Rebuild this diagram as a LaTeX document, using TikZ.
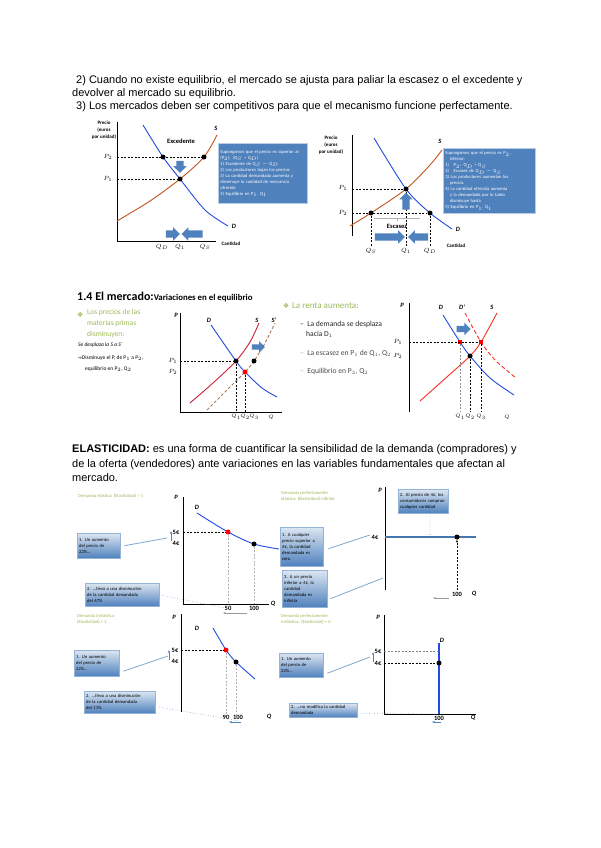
\documentclass[tikz,border=0pt]{standalone}
\usepackage{amsmath,amssymb}
\usepackage{fontspec}
\setmainfont{Liberation Sans}
\newfontfamily\calibri{Carlito}
\newfontfamily\dvsans{DejaVu Sans}
\usetikzlibrary{shapes.arrows,arrows.meta}

\definecolor{demblue}{RGB}{35,75,225}
\definecolor{supbrown}{RGB}{192,84,30}
\definecolor{boxblue}{RGB}{79,129,189}
\definecolor{boxedge}{RGB}{185,205,230}
\definecolor{olgreen}{RGB}{155,187,89}
\definecolor{supred}{RGB}{200,30,55}
\definecolor{shiftbrown}{RGB}{175,120,90}
\definecolor{brightred}{RGB}{250,45,35}
\definecolor{flatblue}{RGB}{70,118,175}

\newcommand{\txtfont}{\fontsize{11}{13}\selectfont}
\newcommand{\notefont}{\calibri\fontsize{4.6}{6}\selectfont}
\newcommand{\lblfont}{\calibri\fontsize{6.5}{7}\selectfont}

\tikzset{
  axis/.style={line width=1pt},
  demand/.style={demblue, line width=0.9pt},
  supply/.style={supbrown, line width=0.9pt},
  guide/.style={line width=0.6pt, dash pattern=on 2pt off 1.5pt},
  lightguide/.style={guide, black!30},
  dot/.style={circle, fill=black, inner sep=0pt, minimum size=5pt},
  reddot/.style={dot, fill=red},
  redsquare/.style={rectangle, fill=red, inner sep=0pt, minimum size=4.5pt},
  lbl/.style={font=\lblfont, inner sep=0pt},
  qlbl/.style={font=\calibri\fontsize{5.5}{6}\selectfont, inner sep=0pt},
  curvelbl/.style={font=\lblfont\bfseries\itshape, inner sep=0pt},
  infobox/.style={anchor=north west, fill=boxblue, draw=boxedge, line width=0.8pt,
    text=white, align=left, inner sep=2pt, font=\notefont},
  notebox/.style={anchor=north west, top color=boxblue!20, bottom color=boxblue,
    draw=boxblue!60, text=black, align=left, inner sep=2pt, font=\notefont},
  fatarrow/.style={single arrow, fill=boxblue, inner xsep=0pt, inner ysep=3.5pt,
    single arrow head extend=3pt},
  greennote/.style={anchor=north west, text=olgreen, font=\notefont, align=left, inner sep=0pt},
  tie/.style={boxblue!70, line width=0.8pt},
  dottie/.style={boxblue!70, line width=0.6pt, dotted},
  thinarrow/.style={-{Stealth[length=3pt]}, line width=0.6pt},
}

\begin{document}
\begin{tikzpicture}[x=1pt,y=-1pt]
\useasboundingbox[fill=white] (0,0) rectangle (600,848);

% texto de arriba
\node[font=\txtfont, anchor=base west, inner sep=0pt] (txt1) at (76,84) {2) Cuando no existe equilibrio, el mercado se ajusta para paliar la escasez o el excedente y};
\node[font=\txtfont, anchor=base west, inner sep=0pt] (txt2) at (72,97) {devolver al mercado su equilibrio.};
\node[font=\txtfont, anchor=base west, inner sep=0pt] (txt3) at (76,110) {3) Los mercados deben ser competitivos para que el mecanismo funcione perfectamente.};

% grafico 1: excedente
\draw[axis] (117,122) -- (117,241) -- (216,241);
\draw[supply] plot[smooth] coordinates {(117,221) (150,201) (180,179) (204,157) (217,135)};
\draw[demand] plot[smooth] coordinates {(143,125) (163,157) (180,179) (205,210) (228,226)};
\coordinate (ga-p2) at (117,157);
\coordinate (ga-p1) at (117,179);
\node[dot] (ga-d2) at (163,157) {};
\node[dot] (ga-s2) at (204,157) {};
\node[dot] (ga-e) at (180,179) {};
\draw[guide] (ga-p2) -- (ga-s2);
\draw[guide] (ga-p1) -- (ga-e);
\node[lbl, align=center, font=\calibri\fontsize{5}{7}\selectfont\bfseries] (ga-ylab) at (104,130) {Precio\\(euros\\por unidad)};
\node[lbl, font=\lblfont\bfseries] (ga-exc) at (181,141) {Excedente};
\node[lbl] (ga-lp2) at (108,157) {$P_2$};
\node[lbl] (ga-lp1) at (108,179) {$P_1$};
\node[curvelbl] (ga-ls) at (216,128) {S};
\node[curvelbl] (ga-ld) at (234,226) {D};
\node[lbl] (ga-q1) at (162,247) {$Q_D$};
\node[lbl] (ga-q2) at (180,247) {$Q_1$};
\node[lbl] (ga-q3) at (205,247) {$Q_S$};
\node[lbl, font=\calibri\fontsize{5}{6}\selectfont\bfseries] (ga-xlab) at (231,244) {Cantidad};
\node[fatarrow, rotate=-90, minimum height=12pt] (ga-down) at (180,165) {};
\node[fatarrow, minimum height=14pt] (ga-right) at (171,234) {};
\node[fatarrow, shape border rotate=180, minimum height=21pt] (ga-left) at (194,234) {};
\node[infobox, text width=85pt, minimum height=60pt] (ga-box) at (218,143) {Supongamos que el precio es superior al\\
(P$_2$): (Q$_S$ > Q$_D$)\\
1) Excedente de Q$_S$ $-$ Q$_D$\\
2) Los productores bajan los precios\\
3) La cantidad demandada aumenta y\\
disminuye la cantidad de mercancía\\
ofrecida\\
4) Equilibrio en P$_1$, Q$_1$};

% grafico 2: escasez
\draw[axis] (352,135) -- (352,236);
\draw[supply] plot[smooth] coordinates {(350,226) (371,213) (406,189) (430,165) (442,150)};
\draw[demand] plot[smooth] coordinates {(374,138) (406,189) (430,213) (452,229)};
\coordinate (gb-p1) at (352,189);
\coordinate (gb-p2) at (352,213);
\node[dot] (gb-s2) at (371,213) {};
\node[dot] (gb-e) at (406,189) {};
\node[dot] (gb-d2) at (430,213) {};
\coordinate (gb-b1) at (371,246);
\coordinate (gb-b2) at (406,246);
\coordinate (gb-b3) at (430,246);
\draw[guide] (gb-p1) -- (gb-e);
\draw[guide] (gb-p2) -- (gb-d2);
\draw[guide] (gb-s2) -- (gb-b1);
\draw[guide] (gb-e) -- (gb-b2);
\draw[guide] (gb-d2) -- (gb-b3);
\draw[black!30, line width=0.8pt] (374,218) -- (420,218);
\draw[black!30, line width=0.6pt] (397,218) -- (397,221);
\node[lbl, font=\lblfont\bfseries] (gb-esc) at (397,226) {Escasez};
\node[lbl, align=center, font=\calibri\fontsize{5}{7}\selectfont\bfseries] (gb-ylab) at (331,145) {Precio\\(euros\\por unidad)};
\node[lbl] (gb-lp1) at (343,188) {$P_1$};
\node[lbl] (gb-lp2) at (343,213) {$P_2$};
\node[curvelbl] (gb-ls) at (440,141) {S};
\node[curvelbl] (gb-ld) at (458,229) {D};
\node[lbl] (gb-q1) at (371,251) {$Q_S$};
\node[lbl] (gb-q2) at (406,251) {$Q_1$};
\node[lbl] (gb-q3) at (430,251) {$Q_D$};
\node[lbl, font=\calibri\fontsize{5}{6}\selectfont\bfseries] (gb-xlab) at (456,246) {Cantidad};
\node[fatarrow, rotate=90, minimum height=17pt] (gb-up) at (406,203) {};
\node[fatarrow, minimum height=30pt] (gb-right) at (388,237) {};
\node[fatarrow, shape border rotate=180, minimum height=20pt] (gb-left) at (420,237) {};
\node[infobox, text width=88pt, minimum height=65pt] (gb-box) at (443,148) {Supongamos que el precio es P$_2$,\\
\quad inferior:\\
1)\quad P$_2$: Q$_D$ > Q$_S$\\
2)\quad Escasez de Q$_D$ $-$ Q$_S$\\
3) Los productores aumentan los\\
\quad precios.\\
4) La cantidad ofrecida aumenta\\
\quad y la demandada por lo tanto\\
\quad disminuye hasta\\
5) Equilibrio en P$_1$, Q$_1$};

% 1.4 variaciones
\node[anchor=base west, inner sep=0pt] (tit14) at (77,300) {\calibri\fontsize{12}{14}\selectfont\bfseries 1.4 El mercado:\fontsize{8.8}{10}\selectfont Variaciones en el equilibrio};
\node[anchor=base west, inner sep=0pt, text=olgreen, font=\dvsans\fontsize{7}{8}\selectfont] (bul1) at (77,317) {❖};
\node[greennote, font=\calibri\fontsize{7.5}{11}\selectfont] (mat) at (87,309) {Los precios de las\\materias primas\\disminuyen:};
\node[anchor=west, inner sep=0pt, font=\calibri\fontsize{5.5}{6}\selectfont\itshape] (mat1) at (78,345) {Se desplaza la S a S'};
\node[anchor=west, inner sep=0pt, font=\calibri\fontsize{5.5}{6}\selectfont] (mat2) at (78,358) {{\dvsans\fontsize{4.5}{5}\selectfont ⇒}Disminuye el P, de P$_1$ a P$_2$,};
\node[anchor=west, inner sep=0pt, font=\calibri\fontsize{5.5}{6}\selectfont] (mat3) at (85,369) {equilibrio en P$_2$, Q$_2$};

% grafico 3: baja la oferta
\draw[axis] (180,313) -- (180,412) -- (282,412);
\draw[demand] plot[smooth] coordinates {(211,325) (236,361) (245,372) (262,388) (277,397)};
\draw[supred, line width=0.9pt] plot[smooth] coordinates {(190,403) (213,383) (236,361) (250,342) (259,323)};
\draw[shiftbrown, line width=0.9pt, dash pattern=on 3pt off 2pt] plot[smooth] coordinates {(207,410) (227,390) (245,372) (254,361) (265,343) (275,323)};
\coordinate (gc-p1) at (180,361);
\node[dot] (gc-e1) at (236,361) {};
\node[dot] (gc-s1) at (254,361) {};
\node[reddot] (gc-e2) at (245,372) {};
\coordinate (gc-b1) at (236,412);
\coordinate (gc-b2) at (245,412);
\draw[guide] (gc-p1) -- (gc-e1);
\draw[guide] (gc-e1) -- (gc-b1);
\draw[guide] (gc-e2) -- (gc-b2);
\node[fatarrow, minimum height=13pt, inner ysep=2.5pt] (gc-right) at (257,347) {};
\node[curvelbl] (gc-lp) at (176,315) {P};
\node[curvelbl] (gc-ld) at (209,320) {D};
\node[curvelbl] (gc-ls) at (257,320) {S};
\node[curvelbl] (gc-ls2) at (274,320) {S'};
\node[lbl] (gc-lp1) at (173,361) {$P_1$};
\node[lbl] (gc-lp2) at (173,372) {$P_2$};
\node[qlbl] (gc-q1) at (236,417) {$Q_1$};
\node[qlbl] (gc-q2) at (245,417) {$Q_2$};
\node[qlbl] (gc-q3) at (254,417) {$Q_3$};
\node[qlbl] (gc-q) at (271,417) {$Q$};

% texto renta
\node[anchor=base west, inner sep=0pt, text=olgreen, font=\dvsans\fontsize{7}{8}\selectfont] (bul2) at (283,308) {❖};
\node[anchor=base west, inner sep=0pt, text=olgreen, font=\calibri\fontsize{9}{10}\selectfont] (renta) at (292,308) {La renta aumenta:};
\node[anchor=base west, inner sep=0pt, font=\calibri\fontsize{7.6}{10}\selectfont, text=black!85] (ren1) at (300,326) {–\ \ La demanda se desplaza};
\node[anchor=base west, inner sep=0pt, font=\calibri\fontsize{7.6}{10}\selectfont, text=black!85] (ren1b) at (306,336) {hacia D$_1$};
\node[anchor=base west, inner sep=0pt, font=\calibri\fontsize{7.6}{10}\selectfont, text=black!70] (ren2) at (300,355) {{\color{black!35}–}\ \ La escasez en P$_1$ de Q$_1$, Q$_2$};
\node[anchor=base west, inner sep=0pt, font=\calibri\fontsize{7.6}{10}\selectfont, text=black!70] (ren3) at (300,373) {{\color{black!35}–}\ \ Equilibrio en P$_2$, Q$_2$};

% grafico 4: sube la demanda
\draw[axis] (409,303) -- (409,412);
\draw[demand] plot[smooth] coordinates {(443,315) (460,342) (470,356) (490,378) (514,395)};
\draw[brightred, line width=0.9pt, dash pattern=on 4pt off 2.5pt] plot[smooth] coordinates {(465,313) (481,342) (495,360) (516,378)};
\draw[brightred, line width=0.9pt] plot[smooth] coordinates {(420,401) (448,376) (470,356) (481,342) (497,313)};
\coordinate (gd-p1) at (409,342);
\node[redsquare] (gd-d1) at (460,342) {};
\node[redsquare] (gd-e2) at (481,342) {};
\node[dot] (gd-e1) at (470,356) {};
\coordinate (gd-b1) at (460,412);
\coordinate (gd-b2) at (470,412);
\coordinate (gd-b3) at (481,412);
\draw[guide] (gd-p1) -- (gd-e2);
\draw[lightguide, black!45] (gd-d1) -- (gd-b1);
\draw[guide] (gd-e1) -- (gd-b2);
\draw[guide] (gd-e2) -- (gd-b3);
\node[fatarrow, minimum height=14pt, inner ysep=3pt] (gd-right) at (462,329) {};
\node[curvelbl] (gd-lp) at (402,305) {P};
\node[curvelbl] (gd-ld) at (441,307) {D};
\node[curvelbl] (gd-ld2) at (462,307) {D'};
\node[curvelbl] (gd-ls) at (492,307) {S};
\node[lbl] (gd-lp1) at (398,342) {$P_1$};
\node[lbl] (gd-lp2) at (398,356) {$P_2$};
\node[qlbl] (gd-q1) at (460,417) {$Q_1$};
\node[qlbl] (gd-q2) at (470,417) {$Q_2$};
\node[qlbl] (gd-q3) at (481,417) {$Q_3$};
\node[qlbl] (gd-q) at (507,417) {$Q$};

% elasticidad
\node[font=\txtfont, anchor=base west, inner sep=0pt] (el1) at (72,452) {\textbf{ELASTICIDAD:} es una forma de cuantificar la sensibilidad de la demanda (compradores) y};
\node[font=\txtfont, anchor=base west, inner sep=0pt] (el2) at (72,467) {de la oferta (vendedores) ante variaciones en las variables fundamentales que afectan al};
\node[font=\txtfont, anchor=base west, inner sep=0pt] (el3) at (72,481) {mercado.};

% demanda elastica
\node[greennote] (ea-tit) at (78,494) {Demanda elástica: (Elasticidad) > 1};
\draw[axis] (183,497) -- (183,604) -- (269,604);
\draw[demand] plot[smooth] coordinates {(197,513) (228,532) (254,544) (279,549)};
\coordinate (ea-p5) at (183,532);
\node[reddot] (ea-a) at (228,532) {};
\node[dot] (ea-b) at (254,544) {};
\coordinate (ea-b1) at (228,604);
\coordinate (ea-b2) at (254,604);
\draw[guide] (ea-p5) -- (ea-a);
\draw[lightguide] (ea-a) -- (ea-b1);
\draw[lightguide] (ea-b) -- (ea-b2);
\node[curvelbl] (ea-lp) at (176,497) {P};
\node[curvelbl] (ea-ld) at (197,507) {D};
\node[lbl, font=\lblfont\bfseries] (ea-l5) at (176,532) {5€};
\node[lbl, font=\lblfont\bfseries] (ea-l4) at (176,543) {4€};
\node[lbl, font=\lblfont\bfseries] (ea-q50) at (228,608) {50};
\node[lbl, font=\lblfont\bfseries] (ea-q100) at (254,608) {100};
\node[curvelbl] (ea-q) at (273,604) {Q};
\node[notebox, text width=39pt, minimum height=25pt] (ea-n1) at (77,533) {1. Un aumento\\del precio de\\22\%...};
\node[notebox, text width=70pt, minimum height=23pt] (ea-n2) at (85,583) {2. ...lleva a una disminución\\de la cantidad demandada\\del 67\%};
\coordinate (ea-t1) at (167,538);
\coordinate (ea-t2) at (225,608);
\draw[tie] ([xshift=4pt]ea-n1.east) -- (ea-t1);
\draw[dottie] (ea-n2.east) -- (ea-t2);
\draw[thinarrow, boxblue] (171,541) -- (171,531);
\draw[thinarrow, black!40] (247,613) -- (223,613);

% demanda perfectamente elastica
\node[greennote] (eb-tit) at (281,491) {Demanda perfectamente\\elástica: (Elasticidad) infinita};
\draw[axis] (385,487) -- (385,590);
\draw[flatblue, line width=2pt] (385,537) -- (476,537);
\node[dot] (eb-a) at (457,537) {};
\coordinate (eb-b) at (457,590);
\draw[guide, -{Stealth[length=3pt]}] (eb-b) -- (eb-a);
\node[curvelbl] (eb-lp) at (380,490) {P};
\node[lbl, font=\lblfont\bfseries] (eb-l4) at (375,537) {4€};
\node[lbl, font=\lblfont\bfseries] (eb-q100) at (457,594) {100};
\node[curvelbl] (eb-q) at (474,594) {Q};
\node[notebox, text width=46pt, minimum height=24pt] (eb-n2) at (398,489) {2. Al precio de 4€, los\\consumidores compran\\cualquier cantidad};
\node[notebox, text width=39pt, minimum height=39pt] (eb-n1) at (280,527) {1. A cualquier\\precio superior a\\4€, la cantidad\\demandada es\\cero};
\node[notebox, text width=41pt, minimum height=37pt] (eb-n3) at (282,570) {3. A un precio\\inferior a 4€, la\\cantidad\\demandada es\\infinita};
\coordinate (eb-t2) at (430,535);
\coordinate (eb-t1) at (370,535);
\coordinate (eb-t3) at (383,578);
\draw[dottie] ([xshift=7pt]eb-n2.south) -- (eb-t2);
\draw[tie] ([xshift=5pt,yshift=-2pt]eb-n1.east) -- (eb-t1);
\draw[tie] ([xshift=3pt,yshift=-10pt]eb-n3.east) -- (eb-t3);
\draw[thinarrow, black!40] (449,598) -- (433,598);

% demanda inelastica
\node[greennote] (ec-tit) at (77,614) {Demanda inelástica:\\(Elasticidad) < 1};
\draw[axis] (181,614) -- (181,712);
\draw[demand] plot[smooth] coordinates {(213,628) (226,650) (236,662) (255,679)};
\coordinate (ec-p5) at (181,650);
\node[reddot] (ec-a) at (226,650) {};
\node[dot] (ec-b) at (236,662) {};
\coordinate (ec-b1) at (226,714);
\coordinate (ec-b2) at (236,714);
\draw[guide] (ec-p5) -- (ec-a);
\draw[lightguide] (ec-a) -- (ec-b1);
\draw[lightguide] (ec-b) -- (ec-b2);
\node[curvelbl] (ec-lp) at (174,617) {P};
\node[curvelbl] (ec-ld) at (197,628) {D};
\node[lbl, font=\lblfont\bfseries] (ec-l5) at (175,650) {5€};
\node[lbl, font=\lblfont\bfseries] (ec-l4) at (175,661) {4€};
\node[lbl, font=\lblfont\bfseries] (ec-q90) at (226,717) {90};
\node[lbl, font=\lblfont\bfseries] (ec-q100) at (238,717) {100};
\node[curvelbl] (ec-q) at (269,717) {Q};
\node[notebox, text width=41pt, minimum height=26pt] (ec-n1) at (74,650) {1. Un aumento\\del precio de\\22\%...};
\node[notebox, text width=67pt, minimum height=22pt] (ec-n2) at (84,691) {2. ...lleva a una disminución\\de la cantidad demandada\\del 11\%.};
\coordinate (ec-t1) at (168,656);
\coordinate (ec-t2) at (240,721);
\draw[tie] ([xshift=4pt,yshift=-8pt]ec-n1.east) -- (ec-t1);
\draw[dottie] ([xshift=4pt,yshift=-5pt]ec-n2.east) -- (ec-t2);
\draw[thinarrow, boxblue] (169,660) -- (169,650);
\draw[thinarrow, boxblue] (241,722) -- (229,722);

% demanda perfectamente inelastica
\node[greennote] (ed-tit) at (281,614) {Demanda perfectamente\\inelástica: (Elasticidad) = 0};
\draw[axis] (384,615) -- (384,714) -- (476,714);
\draw[demblue, line width=1.8pt] (439,643) -- (439,714);
\coordinate (ed-p5) at (384,651);
\coordinate (ed-p4) at (384,663);
\coordinate (ed-a) at (439,651);
\node[dot] (ed-b) at (439,663) {};
\draw[lightguide, black!50] (ed-p5) -- (ed-a);
\draw[guide] (ed-p4) -- (ed-b);
\node[curvelbl] (ed-lp) at (378,617) {P};
\node[curvelbl] (ed-ld) at (442,640) {D};
\node[lbl, font=\lblfont\bfseries] (ed-l5) at (378,651) {5€};
\node[lbl, font=\lblfont\bfseries] (ed-l4) at (378,663) {4€};
\node[lbl, font=\lblfont\bfseries] (ed-q100) at (439,718) {100};
\node[curvelbl] (ed-q) at (473,718) {Q};
\node[notebox, text width=40pt, minimum height=24pt] (ed-n1) at (279,653) {1. Un aumento\\del precio de\\22\%...};
\node[notebox, text width=64pt, minimum height=14pt] (ed-n2) at (289,703) {2. ...no modifica la cantidad\\demandada};
\coordinate (ed-t1) at (370,657);
\coordinate (ed-t2) at (438,714);
\draw[tie] ([xshift=4pt,yshift=-8pt]ed-n1.east) -- (ed-t1);
\draw[dottie] ([xshift=4pt,yshift=-3pt]ed-n2.east) -- (ed-t2);
\draw[thinarrow, boxblue] (373,662) -- (373,652);
\draw[thinarrow, boxblue] (441,722) -- (432,722);
\end{tikzpicture}
\end{document}
